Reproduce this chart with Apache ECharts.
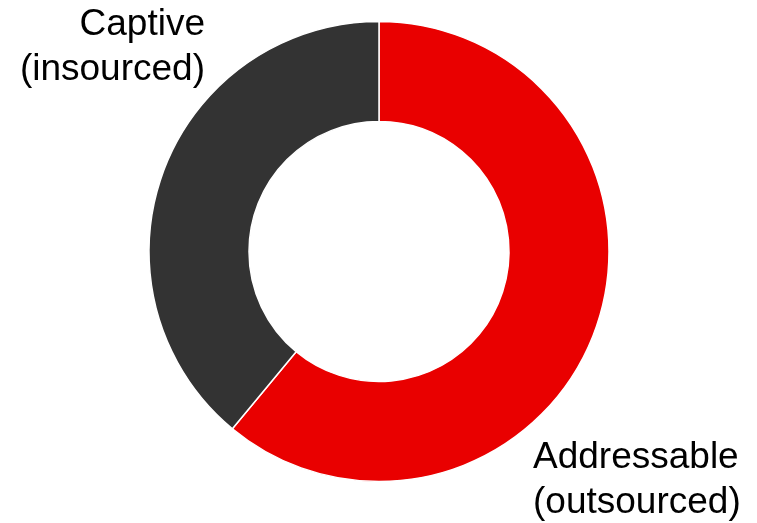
<!DOCTYPE html>
<html><head><meta charset="utf-8">
<script src="https://cdn.jsdelivr.net/npm/echarts@6/dist/echarts.min.js"></script>
<style>html,body{margin:0;padding:0;background:#fff}#c{width:757px;height:523px}</style>
</head><body><div id="c"></div>
<script>
const categories = ["Addressable\n(outsourced)", "Captive\n(insourced)"];
const values = [61, 39];
const colors = ["#E90000", "#333333"];

const chart = echarts.init(document.getElementById('c'), null, {renderer: 'canvas'});
const labelPos = [
  {x: 533, y: 480, align: 'left'},
  {x: 205, y: 47, align: 'right'}
];
chart.setOption({
  animation: false,
  series: [{
    type: 'pie',
    center: [379, 251.5],
    radius: [130, 230],
    startAngle: 90,
    clockwise: true,
    avoidLabelOverlap: false,
    data: categories.map((c, i) => ({name: c, value: values[i], itemStyle: {color: colors[i]}})),
    itemStyle: {borderColor: '#fff', borderWidth: 1.5},
    label: {
      show: true,
      formatter: '{b}',
      fontFamily: 'Liberation Sans, Arial, sans-serif',
      fontSize: 37,
      lineHeight: 45,
      color: '#000',
      overflow: 'none',
      width: 300
    },
    labelLine: {show: false},
    labelLayout: function (p) {
      const l = labelPos[p.dataIndex];
      return {x: l.x, y: l.y, align: l.align, verticalAlign: 'middle'};
    },
    emphasis: {disabled: true}
  }]
});
</script></body></html>
